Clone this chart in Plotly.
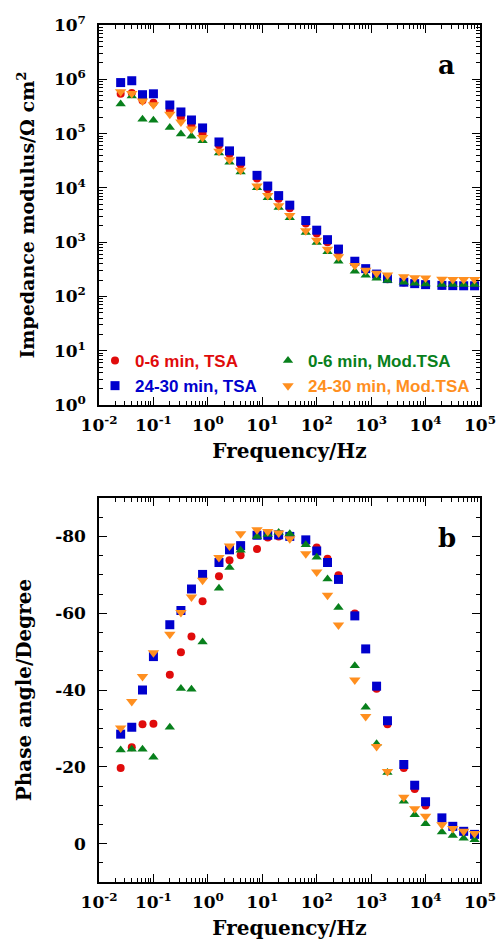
import plotly.graph_objects as go

# ---------------- data ----------------
freq = [0.025, 0.04, 0.063, 0.1, 0.2, 0.32, 0.5, 0.8, 1.6, 2.5, 4, 8, 12.6, 20, 32,
        63, 100, 158, 251, 501, 794, 1259, 1995, 3981, 6310, 10000, 19953, 31623, 50119, 79433]

# Impedance modulus (Ohm cm2)
z_tsa_0_6 = [5.4e5, 5.6e5, 4.05e5, 3.7e5, 2.7e5, 2.0e5, 1.38e5, 9.8e4, 6.1e4, 4.2e4, 2.7e4, 1.48e4,
             9.4e3, 6.3e3, 4.2e3, 2.2e3, 1.45e3, 1.0e3, 680, 420, 310, 250, 208, 180, 170, 163, 158, 156, 155, 155]
z_tsa_24_30 = [8.7e5, 9.4e5, 5.2e5, 5.4e5, 3.36e5, 2.5e5, 1.78e5, 1.27e5, 7.0e4, 4.8e4, 3.1e4, 1.7e4,
               1.08e4, 7.2e3, 4.8e3, 2.5e3, 1.66e3, 1.11e3, 745, 445, 325, 258, 213, 183, 172, 165, 160, 158, 157, 157]
z_mod_0_6 = [3.5e5, 4.9e5, 1.83e5, 1.76e5, 1.30e5, 9.8e4, 8.9e4, 7.4e4, 4.4e4, 2.97e4, 1.95e4, 1.0e4,
             6.6e3, 4.35e3, 2.8e3, 1.5e3, 980, 665, 445, 290, 245, 216, 196, 183, 174, 170, 166, 165, 165, 165]
z_mod_24_30 = [5.9e5, 5.5e5, 4.0e5, 3.4e5, 2.26e5, 1.63e5, 1.22e5, 8.5e4, 4.7e4, 3.3e4, 2.1e4, 1.08e4,
               7.2e3, 4.7e3, 3.1e3, 1.62e3, 1.08e3, 740, 540, 370, 305, 267, 247, 230, 222, 219, 207, 206, 205, 205]

# Phase angle (degree)
ph_tsa_0_6 = [-19.7, -25.1, -31.1, -31.2, -44.0, -49.8, -53.9, -63.1, -69.6, -73.8, -75.1, -76.7,
              -79.7, -80.0, -80.0, -78.5, -77.1, -74.2, -69.9, -59.9, -50.7, -40.3, -31.1, -19.7,
              -14.2, -9.9, -6.5, -4.3, -3.0, -2.2]
ph_tsa_24_30 = [-28.5, -30.3, -40.0, -48.7, -57.0, -60.7, -66.3, -70.1, -73.2, -76.5, -77.6, -80.3,
                -80.3, -80.4, -80.0, -79.1, -76.2, -73.2, -68.8, -59.3, -50.7, -41.0, -32.0, -20.6,
                -15.2, -10.9, -6.7, -4.5, -3.2, -2.4]
ph_mod_0_6 = [-24.4, -24.6, -24.6, -22.5, -30.3, -40.4, -40.2, -52.5, -66.5, -71.9, -76.4, -80.0,
              -80.5, -81.0, -80.7, -77.8, -74.6, -68.9, -61.5, -46.3, -35.5, -26.0, -18.5, -11.0,
              -7.5, -5.2, -3.0, -2.1, -1.4, -1.0]
ph_mod_24_30 = [-30.1, -37.0, -43.5, -49.7, -54.5, -60.2, -64.2, -68.6, -74.5, -77.5, -80.7, -81.7,
                -81.3, -80.9, -79.4, -75.5, -70.7, -64.7, -56.9, -42.6, -33.1, -25.3, -18.8, -12.1,
                -9.1, -7.1, -4.9, -3.9, -3.2, -2.6]

series_names = ["0-6 min, TSA", "24-30 min, TSA", "0-6 min, Mod.TSA", "24-30 min, Mod.TSA"]
series_z = [z_tsa_0_6, z_tsa_24_30, z_mod_0_6, z_mod_24_30]
series_ph = [ph_tsa_0_6, ph_tsa_24_30, ph_mod_0_6, ph_mod_24_30]

x_tickvals = [1e-2, 1e-1, 1e0, 1e1, 1e2, 1e3, 1e4, 1e5]
x_ticktext = ["10<sup>-2</sup>", "10<sup>-1</sup>", "10<sup>0</sup>", "10<sup>1</sup>",
              "10<sup>2</sup>", "10<sup>3</sup>", "10<sup>4</sup>", "10<sup>5</sup>"]
z_tickvals = [1e0, 1e1, 1e2, 1e3, 1e4, 1e5, 1e6, 1e7]
z_ticktext = ["10<sup>0</sup>", "10<sup>1</sup>", "10<sup>2</sup>", "10<sup>3</sup>",
              "10<sup>4</sup>", "10<sup>5</sup>", "10<sup>6</sup>", "10<sup>7</sup>"]
ph_tickvals = [-80, -60, -40, -20, 0]
ph_ticktext = ["-80", "-60", "-40", "-20", "0"]

# ---------------- styles ----------------
colors = ["#e00b0b", "#0000cd", "#08801c", "#ff8f1f"]
symbols = ["circle", "square", "triangle-up", "triangle-down"]
sizes = [8, 9, 9, 10]
legend_ids = ["legend", "legend", "legend2", "legend2"]

SERIF = "DejaVu Serif"
fig = go.Figure()

for i in range(4):
    fig.add_trace(go.Scatter(
        x=freq, y=series_z[i], mode="markers",
        marker=dict(symbol=symbols[i], size=sizes[i], color=colors[i], line=dict(width=0)),
        name='<span style="color:%s">%s</span>' % (colors[i], series_names[i]),
        legend=legend_ids[i], legendgroup="g%d" % i,
        xaxis="x2", yaxis="y2", showlegend=True, hoverinfo="skip"))

for i in range(4):
    fig.add_trace(go.Scatter(
        x=freq, y=series_ph[i], mode="markers",
        marker=dict(symbol=symbols[i], size=sizes[i], color=colors[i], line=dict(width=0)),
        name=series_names[i], xaxis="x", yaxis="y", showlegend=False,
        hoverinfo="skip"))

tickfont = dict(family=SERIF, size=17, color="black", weight="bold")
titlefont = dict(family=SERIF, size=20, color="black", weight="bold")

common = dict(showline=True, linecolor="black", linewidth=1.5, mirror="ticks",
              ticks="inside", ticklen=8, tickwidth=1.2, tickcolor="black",
              showgrid=False, zeroline=False, tickfont=tickfont, automargin=False)

log_minor = dict(ticks="inside", ticklen=4, tickwidth=1, tickcolor="black",
                 dtick="D1", showgrid=False)

PLOT_H = 857
top_dom = [(882 - 405) / PLOT_H, 1.0]
bot_dom = [0.0, (882 - 498) / PLOT_H]

legend_common = dict(orientation="v", xanchor="left", yanchor="top",
                     bgcolor="rgba(0,0,0,0)", tracegroupgap=0,
                     font=dict(family="Liberation Sans", size=17, weight="bold"),
                     itemsizing="trace")

fig.update_layout(
    width=497, height=944,
    margin=dict(l=99, r=17, t=25, b=62, autoexpand=False),
    paper_bgcolor="white", plot_bgcolor="white",
    showlegend=True,
    xaxis=dict(type="log", range=[-2, 5], domain=[0, 1], anchor="y",
               tickmode="array", tickvals=x_tickvals, ticktext=x_ticktext,
               minor=log_minor, ticklabelstandoff=4,
               title=dict(text="Frequency/Hz", font=titlefont, standoff=10), **common),
    yaxis=dict(range=[10, -90], domain=bot_dom, anchor="x",
               tickmode="array", tickvals=ph_tickvals, ticktext=ph_ticktext,
               minor=dict(ticks="inside", ticklen=4, tickwidth=1, tickcolor="black",
                          tickmode="linear", tick0=0, dtick=5, showgrid=False),
               ticklabelstandoff=8,
               title=dict(text="Phase angle/Degree", font=titlefont, standoff=18), **common),
    xaxis2=dict(type="log", range=[-2, 5], domain=[0, 1], anchor="y2",
                tickmode="array", tickvals=x_tickvals, ticktext=x_ticktext,
                minor=log_minor, ticklabelstandoff=4,
                title=dict(text="Frequency/Hz", font=titlefont, standoff=10), **common),
    yaxis2=dict(type="log", range=[0, 7], domain=top_dom, anchor="x2",
                tickmode="array", tickvals=z_tickvals, ticktext=z_ticktext,
                minor=log_minor, ticklabelstandoff=8,
                title=dict(text="Impedance modulus/Ω cm<sup>2</sup>",
                           font=dict(family=SERIF, size=19, color="black", weight="bold"),
                           standoff=14),
                **common),
    legend=dict(x=(95 - 99) / 381, y=(882 - 343) / PLOT_H, **legend_common),
    legend2=dict(x=(268 - 99) / 381, y=(882 - 343) / PLOT_H, **legend_common),
    annotations=[
        dict(text="a", xref="paper", yref="paper", x=(446 - 99) / 381, y=(882 - 65) / PLOT_H,
             xanchor="center", yanchor="middle",
             showarrow=False, font=dict(family=SERIF, size=26, color="black", weight="bold")),
        dict(text="b", xref="paper", yref="paper", x=(447 - 99) / 381, y=(882 - 538) / PLOT_H,
             xanchor="center", yanchor="middle",
             showarrow=False, font=dict(family=SERIF, size=26, color="black", weight="bold")),
    ],
)

fig.write_html("out.html",
               config={"displayModeBar": False},
               post_script="document.body.style.margin='0';document.body.style.overflow='hidden';")
